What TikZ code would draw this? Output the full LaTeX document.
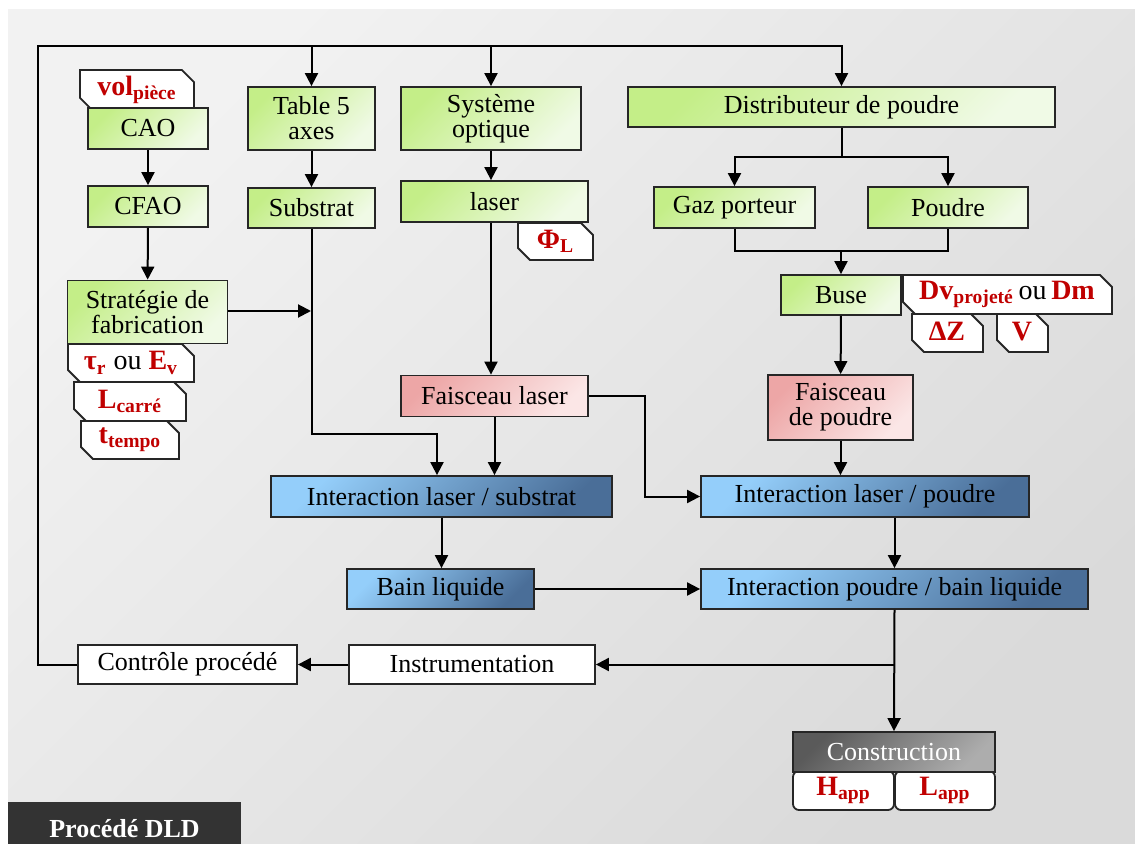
\documentclass[tikz,border=0pt]{standalone}
\usepackage{fontspec}
\setmainfont{Liberation Serif}
\usetikzlibrary{arrows.meta,shapes.misc}
\definecolor{vertA}{HTML}{C4EE88}
\definecolor{vertB}{HTML}{F0FAE6}
\definecolor{roseA}{HTML}{EDA6A6}
\definecolor{roseB}{HTML}{FBE6E6}
\definecolor{bleuA}{HTML}{94CEFA}
\definecolor{bleuB}{HTML}{4A6E98}
\definecolor{grisA}{HTML}{5A5A5A}
\definecolor{grisB}{HTML}{ADADAD}
\definecolor{rouge}{HTML}{C00000}
\definecolor{fondA}{HTML}{F2F2F2}
\definecolor{fondB}{HTML}{DADADA}
\definecolor{sombre}{HTML}{333333}
\newcommand{\grandeur}[2]{\textcolor{rouge}{\textbf{#1\textsubscript{#2}}}}

\begin{document}
\begin{tikzpicture}[x=0.5pt,y=-0.5pt,line width=1pt,
        texte/.style={font=\fontsize{13}{12.5}\selectfont},
        box/.style={texte,draw=black!85,line width=0.9pt,inner sep=1pt,align=center},
        vert/.style={box,top color=vertA,bottom color=vertB,shading angle=45},
        rose/.style={box,top color=roseA,bottom color=roseB,shading angle=45},
        bleu/.style={box,top color=bleuA,bottom color=bleuB,shading angle=45},
        blanc/.style={box,fill=white},
        gris/.style={box,top color=grisA,bottom color=grisB,shading angle=45,text=white},
        etiq/.style={font=\fontsize{14}{14}\selectfont,draw=black!85,line width=0.9pt,fill=white,inner sep=0pt,
                chamfered rectangle,chamfered rectangle corners={north east,south west},
                chamfered rectangle xsep=3pt,chamfered rectangle ysep=3pt},
        arrondi/.style={font=\fontsize{14}{14}\selectfont,draw=black!85,line width=0.9pt,fill=white,inner sep=0pt,rounded corners=3pt},
        arr/.style={-{Triangle[length=6.5pt,width=6.5pt]}}]
        \useasboundingbox (0,0) rectangle (1135,844);
        \shade[top color=fondA,bottom color=fondB,shading angle=45] (8,10) rectangle (1135,844);
        \fill[sombre] (8,802) rectangle (241,844);
        \node[font=\fontsize{13}{13}\selectfont\bfseries,text=white] (titre) at (124.5,829) {Procédé DLD};

        \node[etiq,minimum width=57pt,minimum height=19pt] (tvol) at (137,90) {\grandeur{vol}{pièce}};
        \node[etiq,minimum width=63pt,minimum height=19pt] (ttau) at (131,363) {\grandeur{τ}{r} ou \grandeur{E}{v}};
        \node[etiq,minimum width=56pt,minimum height=19.5pt] (tlc) at (130,401.5) {\grandeur{L}{carré}};
        \node[etiq,minimum width=49pt,minimum height=19pt] (ttemp) at (130,440) {\grandeur{t}{tempo}};
        \node[etiq,minimum width=37.5pt,minimum height=18.5pt] (tphi) at (555.5,241.5) {\grandeur{Φ}{L}};
        \node[etiq,minimum width=104.5pt,minimum height=19.5pt] (tdv) at (1007.5,294.5) {\grandeur{Dv}{projeté}\,ou\,\grandeur{Dm}{}};
        \node[etiq,minimum width=35.5pt,minimum height=19pt] (tdz) at (947.5,333) {\grandeur{ΔZ}{}};
        \node[etiq,minimum width=25.5pt,minimum height=19pt] (tv) at (1022.5,333) {\grandeur{V}{}};
        \node[arrondi,minimum width=50.5pt,minimum height=19.5pt] (thapp) at (843.5,790.5) {\grandeur{H}{app}};
        \node[arrondi,minimum width=50pt,minimum height=19.5pt] (tlapp) at (945,790.5) {\grandeur{L}{app}};

        \node[vert,minimum width=60pt,minimum height=20.5pt] (cao) at (148,128.5) {CAO};
        \node[vert,minimum width=60pt,minimum height=20.5pt] (cfao) at (148,206.5) {CFAO};
        \node[vert,minimum width=80pt,minimum height=31.5pt] (strat) at (147.5,312) {Stratégie de\\fabrication};
        \node[vert,minimum width=63.5pt,minimum height=31.5pt] (table) at (311.5,118.5) {Table 5\\axes};
        \node[vert,minimum width=63.5pt,minimum height=20pt] (substrat) at (311.5,208) {Substrat};
        \node[vert,minimum width=90pt,minimum height=31.5pt] (optique) at (491,118.5) {Système\\optique};
        \node[vert,minimum width=93.5pt,minimum height=20.5pt] (laser) at (494.5,201.5) {laser};
        \node[vert,minimum width=213.5pt,minimum height=20pt] (distrib) at (841.5,107) {Distributeur de poudre};
        \node[vert,minimum width=80.5pt,minimum height=20.5pt] (gaz) at (734.5,207.5) {Gaz porteur};
        \node[vert,minimum width=80pt,minimum height=20.5pt] (poudre) at (948,207.5) {Poudre};
        \node[vert,minimum width=60pt,minimum height=20pt] (buse) at (841,295) {Buse};
        \node[rose,minimum width=93.5pt,minimum height=20.5pt] (faisl) at (494.5,396) {Faisceau laser};
        \node[rose,minimum width=72.5pt,minimum height=32.5pt] (faisp) at (840.5,407.5) {Faisceau\\de poudre};
        \node[bleu,minimum width=170.5pt,minimum height=20.5pt] (ils) at (441.5,496.5) {Interaction laser / substrat};
        \node[bleu,minimum width=164pt,minimum height=20.5pt] (ilp) at (865,496.5) {Interaction laser / poudre};
        \node[bleu,minimum width=93.5pt,minimum height=20pt] (bain) at (440.5,589) {Bain liquide};
        \node[bleu,minimum width=193.5pt,minimum height=20pt] (ipb) at (894.5,589) {Interaction poudre / bain liquide};
        \node[blanc,minimum width=123pt,minimum height=19.5pt] (instr) at (472,664.5) {Instrumentation};
        \node[blanc,minimum width=109.5pt,minimum height=19.5pt] (ctrl) at (187.5,664.5) {Contrôle procédé};
        \node[gris,minimum width=101pt,minimum height=20pt] (constr) at (894,752) {Construction};

        \coordinate (tl) at (38,46);
        \coordinate (sj) at (311,311);
        \coordinate (sb) at (437,434);
        \coordinate (fb) at (645,496.5);
        \coordinate (ds) at (841.5,157);
        \coordinate (gm) at (841,251);

        \draw[arr] (ctrl.west) -| (tl) -| (distrib.north);
        \draw[arr] (table.north |- tl) -- (table.north);
        \draw[arr] (optique.south |- tl) -- (optique.north);
        \draw[arr] (cao) -- (cfao);
        \draw[arr] (cfao) -- (strat);
        \draw[arr] (strat.east |- sj) -- (sj);
        \draw[arr] (table) -- (substrat);
        \draw[arr] (optique.south) -- (optique.south |- laser.north);
        \draw[arr] (optique.south |- laser.south) -- (optique.south |- faisl.north);
        \draw[arr] (substrat.south) |- (sb) -- (sb |- ils.north);
        \draw[arr] (faisl.south) -- (faisl.south |- ils.north);
        \draw[arr] (faisl.east) -| (fb) -- (ilp.west);
        \draw (distrib.south) -- (ds);
        \draw[arr] (ds) -| (gaz.north);
        \draw[arr] (ds) -| (poudre.north);
        \draw (gaz.south) |- (gm) -| (poudre.south);
        \draw[arr] (gm) -- (buse.north);
        \draw[arr] (buse) -- (faisp);
        \draw[arr] (faisp.south) -- (faisp.south |- ilp.north);
        \draw[arr] (ils.south) -- (ils.south |- bain.north);
        \draw[arr] (bain.east) -- (ipb.west);
        \draw[arr] (ipb.north |- ilp.south) -- (ipb.north);
        \draw[arr] (ipb.south) -- (constr.north);
        \draw[arr] (ipb.south |- instr.east) -- (instr.east);
        \draw[arr] (instr.west) -- (ctrl.east);
    \end{tikzpicture}
\end{document}
